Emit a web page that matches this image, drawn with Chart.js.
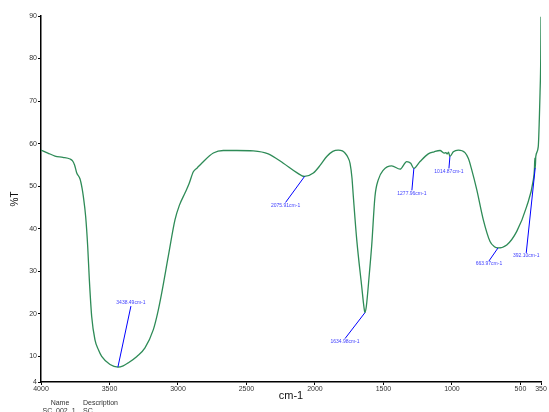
<!DOCTYPE html>
<html>
<head>
<meta charset="utf-8">
<script src="https://cdn.jsdelivr.net/npm/chart.js@4"></script>
<style>
html,body{margin:0;padding:0;background:#fff;}
</style>
</head>
<body>
<canvas id="irChart" width="549" height="412"></canvas>
<script>
// FTIR spectrum (wavenumber cm-1, %T)
const wavenumbers = [4000,3950,3898,3840,3788,3771,3755,3739,3715,3700,3691,3674,3659,3647,3630,3606,3580,3557,3496,3438,3400,3363,3300,3241,3180,3150,3119,3071,3022,2990,2949,2920,2888,2860,2827,2742,2669,2571,2450,2341,2231,2133,2076,2012,1960,1914,1870,1830,1800,1781,1760,1744,1730,1720,1695,1659,1642,1635,1625,1603,1586,1562,1538,1501,1440,1379,1330,1301,1278,1233,1173,1130,1087,1058,1045,1034,1025,1015,990,954,905,880,856,819,771,722,690,664,600,527,455,406,398,395,392,388,370,362,357,352,350];
const transmittance = [58.5,57.8,57.1,56.8,56.4,56.0,55.0,53.1,51.7,49.5,47.6,42.9,35.8,28.0,19.4,13.9,11.5,10.0,8.1,7.5,7.8,8.5,10.0,12.0,16.3,20.0,24.9,33.5,42.1,45.5,48.4,50.5,53.4,54.3,55.4,57.8,58.4,58.4,58.3,57.6,55.4,53.2,52.3,53.1,55.0,57.0,58.2,58.5,58.3,57.8,56.8,55.4,52.0,47.6,37.4,26.5,21.5,20.3,21.8,29.5,36.0,47.6,51.5,53.8,54.8,54.0,55.8,55.4,54.2,55.8,57.6,58.1,58.4,57.8,57.9,57.6,58.0,57.0,58.1,58.5,57.9,56.5,53.9,49.2,42.1,37.0,35.8,35.5,36.2,39.4,45.2,51.5,54.0,56.6,54.3,57.0,59.3,66.0,71.9,80.0,89.8];

const xTicks = [4000,3500,3000,2500,2000,1500,1000,500,350];
const yTicks = [4,10,20,30,40,50,60,70,80,90];

const peakLabels = ["3438.49cm-1","2075.91cm-1","1634.98cm-1","1277.96cm-1","1014.87cm-1","663.97cm-1","392.10cm-1"];
const peakWn = [3438.49,2075.91,1634.98,1277.96,1014.87,663.97,392.10];
const peakT = [7.5,52.3,20.3,54.2,57.0,35.5,54.3];

const footerHead = ["Name","Description"];
const footerRow = ["SC_002_1","SC"];

// where each peak label's leader line ends, in px from the peak
const leaderOffsets = [[13,-61],[-19,26],[-20,26],[-2,22],[-1,12],[-9,13],[-9,85]];

const peakPlugin = {
    id: 'peakPlugin',
    afterDatasetsDraw(chart){
        const ctx = chart.ctx;
        const xs = chart.scales.x, ys = chart.scales.y;
        ctx.save();
        ctx.font = '5px "Liberation Sans", Arial, sans-serif';
        ctx.textAlign = 'center';
        ctx.textBaseline = 'middle';
        peakWn.forEach((w,i)=>{
            const px = xs.getPixelForValue(w);
            const py = ys.getPixelForValue(peakT[i]);
            const ex = px + leaderOffsets[i][0];
            const ey = py + leaderOffsets[i][1];
            ctx.strokeStyle = '#0000ff';
            ctx.lineWidth = 1;
            ctx.beginPath();
            ctx.moveTo(px,py);
            ctx.lineTo(ex,ey);
            ctx.stroke();
            ctx.fillStyle = '#3f3fff';
            ctx.fillText(peakLabels[i], ex, ey + (leaderOffsets[i][1] > 0 ? 3 : -3));
        });
        // footer
        ctx.font = '7px "Liberation Sans", Arial, sans-serif';
        ctx.fillStyle = '#333';
        ctx.textAlign = 'center';
        ctx.fillText(footerHead[0], 60, 403);
        ctx.fillText(footerRow[0], 59, 411);
        ctx.textAlign = 'left';
        ctx.fillText(footerHead[1], 83, 403);
        ctx.fillText(footerRow[1], 83, 411);
        ctx.restore();
    }
};

const ctx = document.getElementById('irChart').getContext('2d');
new Chart(ctx,{
    type:'line',
    data:{
        datasets:[{
            data: wavenumbers.map((w,i)=>({x:w, y:transmittance[i]})),
            borderColor:'#2e8b57',
            borderWidth:1.3,
            pointRadius:0,
            fill:false,
            cubicInterpolationMode:'monotone'
        }]
    },
    options:{
        responsive:false,
        animation:false,
        layout:{padding:{top:16,right:8,left:0,bottom:0}},
        plugins:{legend:{display:false}, tooltip:{enabled:false}},
        scales:{
            x:{
                type:'linear',
                reverse:true,
                min:350, max:4000,
                afterBuildTicks(scale){ scale.ticks = xTicks.map(v=>({value:v})); },
                afterFit(scale){ scale.height = 30; },
                grid:{display:true, drawOnChartArea:false, tickLength:3, color:'#000'},
                border:{display:true, color:'#000', width:1.5},
                ticks:{autoSkip:false, maxRotation:0, padding:0, color:'#333',
                    font:{family:'"Liberation Sans", Arial, sans-serif', size:7},
                    callback:v=>String(v)},
                title:{display:true, text:'cm-1', color:'#111',
                    font:{family:'"Liberation Sans", Arial, sans-serif', size:11},
                    padding:{top:0,bottom:9}}
            },
            y:{
                min:4, max:90,
                afterBuildTicks(scale){ scale.ticks = yTicks.map(v=>({value:v})); },
                afterFit(scale){ scale.width = 41; },
                grid:{display:true, drawOnChartArea:false, tickLength:3, color:'#000'},
                border:{display:true, color:'#000', width:1.5},
                ticks:{autoSkip:false, padding:1, color:'#333',
                    font:{family:'"Liberation Sans", Arial, sans-serif', size:7}},
                title:{display:true, text:'%T', color:'#111',
                    font:{family:'"Liberation Sans", Arial, sans-serif', size:10},
                    padding:{top:9,bottom:9}}
            }
        }
    },
    plugins:[peakPlugin]
});
</script>
</body>
</html>
